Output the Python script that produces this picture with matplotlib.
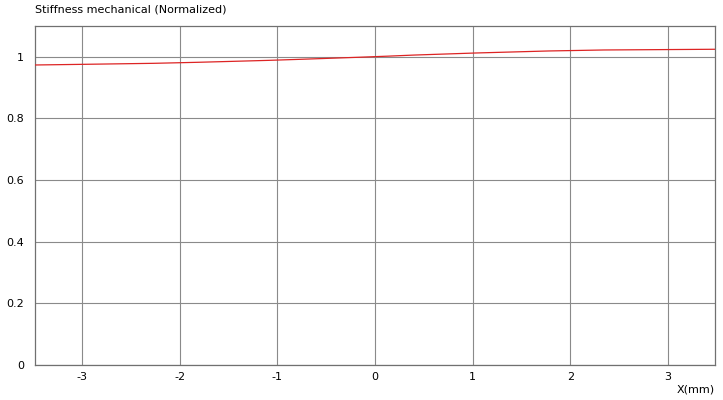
import matplotlib
matplotlib.use("Agg")
import matplotlib.pyplot as plt

# data
x_mm = [-3.48, -2.969, -2.266, -1.816, -1.432, -1.091, -0.774, -0.476, -0.182,
        0.121, 0.408, 0.712, 1.030, 1.381, 1.781, 2.344, 3.48]
stiffness = [0.9735, 0.9757, 0.9789, 0.9822, 0.9855, 0.9885, 0.9918, 0.9951, 0.9984,
             1.0020, 1.0058, 1.0090, 1.0124, 1.0155, 1.0190, 1.0222, 1.0245]
x_ticks = [-3, -2, -1, 0, 1, 2, 3]
y_ticks = [0, 0.2, 0.4, 0.6, 0.8, 1]
y_tick_labels = ["0", "0.2", "0.4", "0.6", "0.8", "1"]

plt.rcParams['font.family'] = ['DejaVu Sans']
fig = plt.figure(figsize=(7.23, 4.0), dpi=100)
ax = fig.add_axes([35/723, 1-365/400, (715-35)/723, (365-26)/400])

ax.plot(x_mm, stiffness, color="#dd2424", lw=0.9, zorder=3)

ax.set_xlim(-3.48, 3.48)
ax.set_ylim(0, 1.1)
ax.set_xticks(x_ticks)
ax.set_xticklabels([str(t) for t in x_ticks])
ax.set_yticks(y_ticks)
ax.set_yticklabels(y_tick_labels)
ax.grid(True, color="#8a8a8a", lw=0.8)
ax.set_axisbelow(True)
ax.tick_params(length=0, labelsize=8, colors="#000000", pad=5)
ax.tick_params(axis='y', pad=8)
for s in ax.spines.values():
    s.set_color("#707070")
    s.set_linewidth(0.9)

fig.text(35/723, 1-9/400, "Stiffness mechanical (Normalized)", fontsize=8,
         ha="left", va="center")
fig.text(715/723, 1-390/400, "X(mm)", fontsize=8, ha="right", va="center")

fig.savefig("out.png", dpi=100)
